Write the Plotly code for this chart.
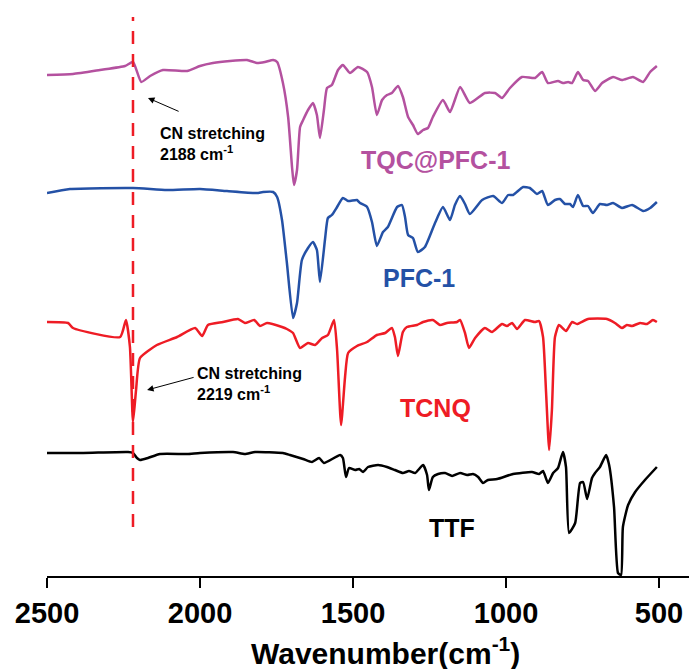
import plotly.graph_objects as go

# Wavenumbers (cm-1) and offset transmittance (a.u.)
tqc_wn = [2500, 2415, 2327, 2245, 2219, 2192, 2163, 2121, 2042, 2000, 1958, 1902, 1846, 1814, 1788, 1761, 1748,
          1729, 1712, 1699, 1693, 1683, 1673, 1663, 1647, 1631, 1618, 1608, 1595, 1585, 1569, 1549, 1533, 1510,
          1484, 1454, 1438, 1422, 1405, 1389, 1373, 1353, 1337, 1320, 1304, 1288, 1271, 1255, 1239, 1206, 1183,
          1150, 1118, 1069, 1036, 1013, 987, 948, 905, 882, 863, 830, 814, 797, 784, 765, 748, 732, 709, 686,
          650, 621, 585, 552, 529, 507]
tqc_val = [501, 502, 506, 510, 514, 494, 500, 506, 505, 510, 513, 515, 516, 513, 514, 516, 514,
           493, 459, 408, 391, 406, 449, 456, 466, 473, 461, 438, 466, 488, 491, 506, 511, 503,
           509, 504, 489, 461, 476, 481, 483, 490, 479, 459, 451, 442, 446, 448, 459, 476, 464,
           489, 473, 483, 483, 478, 488, 499, 498, 504, 493, 495, 493, 494, 493, 504, 496, 495, 485, 493,
           499, 496, 499, 494, 504, 510]

pfc_wn = [2500, 2425, 2219, 2108, 2000, 1912, 1814, 1794, 1761, 1748, 1732, 1716, 1696, 1683, 1667, 1647, 1631,
          1618, 1608, 1591, 1582, 1569, 1552, 1533, 1516, 1487, 1477, 1454, 1438, 1422, 1402, 1386, 1356, 1340,
          1330, 1320, 1304, 1288, 1265, 1232, 1206, 1183, 1167, 1150, 1134, 1118, 1078, 1042, 1013, 993, 977,
          944, 922, 899, 882, 863, 840, 824, 807, 791, 781, 765, 748, 732, 716, 693, 670, 650, 621, 588, 552,
          529, 507]
pfc_val = [383, 387, 388, 386, 387, 385, 383, 384, 384, 379, 356, 313, 258, 273, 316, 328, 334,
           326, 294, 338, 358, 361, 369, 378, 375, 376, 373, 369, 354, 330, 344, 349, 369, 371,
           359, 341, 338, 324, 329, 353, 369, 356, 371, 380, 372, 362, 376, 380, 373, 381, 381,
           389, 388, 382, 385, 371, 376, 377, 372, 372, 369, 381, 370, 370, 363, 372, 371, 373, 368, 371, 365,
           368, 374]

tcnq_wn = [2500, 2431, 2415, 2261, 2242, 2229, 2219, 2209, 2196, 2141, 2075, 2016, 1993, 1974, 1925, 1876, 1853,
           1823, 1804, 1781, 1732, 1716, 1696, 1673, 1647, 1624, 1601, 1582, 1562, 1552, 1539, 1526, 1516, 1487,
           1454, 1422, 1395, 1373, 1363, 1353, 1337, 1324, 1291, 1271, 1239, 1216, 1193, 1160, 1150, 1134, 1121,
           1101, 1069, 1046, 1013, 997, 980, 964, 938, 905, 892, 879, 869, 859, 850, 840, 827, 804, 784, 768,
           732, 670, 644, 621, 605, 588, 562, 539, 520, 507]
tcnq_val = [254, 253, 248, 239, 256, 229, 154, 186, 218, 231, 239, 248, 240, 251, 254, 257, 253,
            256, 250, 253, 249, 247, 243, 228, 233, 231, 238, 241, 256, 226, 151, 199, 223, 230,
            234, 241, 243, 248, 239, 220, 244, 249, 251, 254, 256, 251, 253, 254, 256, 243, 228,
            238, 248, 244, 252, 250, 253, 247, 256, 254, 255, 239, 183, 126, 166, 239, 251, 245, 254, 252,
            257, 257, 253, 248, 251, 250, 253, 252, 256, 254]

ttf_wn = [2500, 2382, 2235, 2219, 2206, 2196, 2170, 2131, 2042, 2000, 1892, 1853, 1820, 1729, 1706, 1663, 1634,
          1611, 1595, 1542, 1533, 1523, 1513, 1493, 1480, 1467, 1451, 1418, 1389, 1363, 1337, 1317, 1297, 1271,
          1258, 1252, 1239, 1222, 1199, 1176, 1150, 1127, 1108, 1091, 1075, 1059, 1029, 977, 915, 892, 879,
          863, 846, 830, 814, 804, 794, 774, 758, 748, 735, 719, 709, 693, 673, 663, 647, 634, 624, 618, 601,
          578, 546, 507]
ttf_val = [123, 123, 124, 123, 118, 116, 118, 122, 122, 123, 124, 122, 124, 123, 121, 117, 114,
           118, 113, 121, 118, 99, 108, 106, 107, 104, 109, 111, 109, 106, 103, 105, 103, 111,
           101, 86, 99, 102, 103, 100, 103, 101, 102, 99, 93, 96, 97, 102, 104, 102, 105,
           93, 103, 108, 124, 109, 43, 53, 93, 94, 77, 98, 103, 109, 121, 111, 69, 3, 1, 49, 71,
           84, 96, 109]

series_names = ["TQC@PFC-1", "PFC-1", "TCNQ", "TTF"]
series_colors = ["#B4519F", "#2451A6", "#EE1C25", "#000000"]
tick_vals = [2500, 2000, 1500, 1000, 500]
tick_text = ["2500", "2000", "1500", "1000", "500"]
cn_line_wn = 2219

FONT = "Liberation Sans, Arial, sans-serif"

fig = go.Figure()
for name, xs, ys, col in zip(series_names, [tqc_wn, pfc_wn, tcnq_wn, ttf_wn],
                             [tqc_val, pfc_val, tcnq_val, ttf_val], series_colors):
    fig.add_trace(go.Scatter(x=xs, y=ys, mode="lines", name=name,
                             line=dict(color=col, width=2.5, shape="spline", smoothing=0.5)))

# dashed reference line at CN stretching
fig.add_shape(type="line", x0=cn_line_wn, x1=cn_line_wn, y0=49, y1=559, xref="x", yref="y",
              line=dict(color="#EE1C25", width=2.5, dash="13px,10px"))

label_pos = [(1229, 416), (1284, 298), (1229, 168), (1176, 48)]
for name, col, (lx, ly) in zip(series_names, series_colors, label_pos):
    fig.add_annotation(x=lx, y=ly, xref="x", yref="y", text=name, showarrow=False,
                       font=dict(family=FONT, size=25, color=col, weight="bold"))

fig.add_annotation(x=2137, y=432, xref="x", yref="y", xanchor="left", align="left",
                   text="CN stretching<br>2188 cm<sup>-1</sup>", showarrow=False,
                   font=dict(family=FONT, size=16, color="black", weight="bold"))
fig.add_annotation(x=2016, y=192, xref="x", yref="y", xanchor="left", align="left",
                   text="CN stretching<br>2219 cm<sup>-1</sup>", showarrow=False,
                   font=dict(family=FONT, size=16, color="black", weight="bold"))
# arrows
fig.add_annotation(x=2170, y=478, ax=2065, ay=464, xref="x", yref="y", axref="x", ayref="y",
                   text="", showarrow=True, arrowhead=2, arrowsize=1.3, arrowwidth=1, arrowcolor="black")
fig.add_annotation(x=2173, y=186, ax=2016, ay=199, xref="x", yref="y", axref="x", ayref="y",
                   text="", showarrow=True, arrowhead=2, arrowsize=1.3, arrowwidth=1, arrowcolor="black")

# axis title (paper coordinates so it is not hidden outside the axis range)
fig.add_annotation(x=0.528, y=-0.131, xref="paper", yref="paper", showarrow=False,
                   text="Wavenumber(cm<sup>-1</sup>)", yanchor="middle",
                   font=dict(family=FONT, size=30, color="black", weight="bold"))

fig.update_layout(
    width=691, height=669,
    margin=dict(l=47, r=2, t=0, b=93),
    paper_bgcolor="white", plot_bgcolor="white",
    showlegend=False,
    xaxis=dict(range=[2500, 402], tickvals=tick_vals, ticktext=tick_text,
               showgrid=False, zeroline=False, showline=True, linecolor="black", linewidth=2,
               ticks="outside", ticklen=10, tickwidth=2, tickcolor="black",
               tickfont=dict(family=FONT, size=29, color="black", weight="bold")),
    yaxis=dict(range=[0, 576], visible=False, showgrid=False, zeroline=False),
)

fig.write_html("out.html", config={"displayModeBar": False},
               post_script="document.body.style.margin='0px';")
